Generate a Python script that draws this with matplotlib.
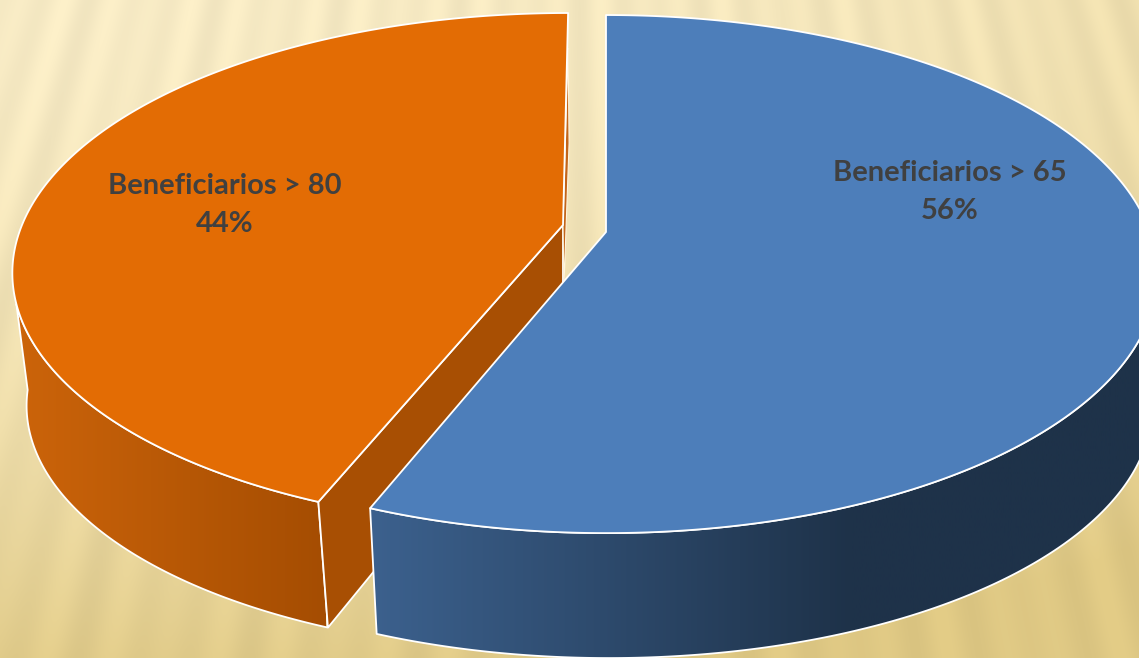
import numpy as np
import matplotlib
matplotlib.use("Agg")
import matplotlib.pyplot as plt
from matplotlib.patches import Polygon
from matplotlib.colors import LinearSegmentedColormap

categories = ["Beneficiarios > 65", "Beneficiarios > 80"]
shares = [56, 44]

W, H = 1139, 658
fig = plt.figure(figsize=(W / 100, H / 100), dpi=100)
ax = fig.add_axes([0, 0, 1, 1])


def background():
    y, x = np.mgrid[0:H, 0:W]
    t = np.clip(0.9 * (y / H) ** 1.7 + 0.35 * (x / W) ** 2.5, 0, 1)
    light = np.array([254, 241, 202]) / 255
    dark = np.array([228, 205, 135]) / 255
    phi = np.arctan((x - 570) / (y + 1700.0))
    s = 0.5 + 0.3 * np.sin(phi * 267) + 0.2 * np.sin(phi * 181 + 1)
    shade = 1 - 0.05 * s
    img = (light * (1 - t[..., None]) + dark * t[..., None]) * shade[..., None]
    return np.clip(img, 0, 1)


ax.imshow(background(), extent=(0, W, H, 0), aspect="auto", zorder=0)


def rim(theta, apex, A, K, S, shear=0.0, depth=False, dshift=0.0, xscale=1.0):
    sx, cy = np.sin(theta), np.cos(theta)
    den = 1 + K * cy
    X = A * sx / den
    Y = -S * cy / den
    px = apex[0] + X - shear * Y
    py = apex[1] + Y
    if depth:
        px = apex[0] + X * xscale - shear * Y + dshift
        py = apex[1] + Y * 0.97 + 134
    return px, py


def gradient_wall(poly_xy, x0, x1, stops, z):
    patch = Polygon(poly_xy, closed=True, fc="none", ec="none", zorder=z)
    ax.add_patch(patch)
    cmap = LinearSegmentedColormap.from_list("w", stops)
    grad = np.linspace(0, 1, 400)[None, :]
    im = ax.imshow(grad, extent=(x0, x1, H, 0), cmap=cmap, aspect="auto", zorder=z)
    im.set_clip_path(patch)
    ax.add_patch(Polygon(poly_xy, closed=True, fc="none", ec="white", lw=1.3, zorder=z + 0.1, joinstyle="round"))
    return im


frac = np.cumsum(shares) / np.sum(shares)
split = frac[0] * 2 * np.pi

# ---- orange slice (exploded)
apex_o = (563, 225)
geo_o = dict(apex=apex_o, A=541, K=0.1755, S=249.2, shear=0.024)
dep_o = dict(depth=True, dshift=6, xscale=0.985)
xt, yt = rim(np.linspace(split, np.radians(252.5), 200), **geo_o)
xb, yb = rim(np.linspace(split, np.radians(262.8), 200), **geo_o, **dep_o)
gradient_wall(np.c_[np.r_[xt, xb[::-1]], np.r_[yt, yb[::-1]]], 15, 326, ["#cc640a", "#a54d02"], 2)

ax_t, ay_t = rim(np.array([split]), **geo_o)
ax_b, ay_b = rim(np.array([split]), **geo_o, **dep_o)
ax.add_patch(Polygon([(apex_o[0], apex_o[1]), (ax_t[0], ay_t[0]), (ax_b[0], ay_b[0]),
                      (apex_o[0], apex_o[1] + 115)],
                     closed=True, fc="#a84f03", ec="white", lw=1.3, zorder=3))
top_x, top_y = rim(np.array([2 * np.pi]), **geo_o)
ax.add_patch(Polygon([(apex_o[0], apex_o[1]), (top_x[0], top_y[0] + 35), (top_x[0] + 1, top_y[0] + 130),
                      (apex_o[0] + 1, apex_o[1] + 60)],
                     closed=True, fc="#c2651a", ec="#fff4dc", lw=0.8, zorder=3))
xo, yo = rim(np.linspace(split, 2 * np.pi, 300), **geo_o)
ax.add_patch(Polygon(np.c_[np.r_[apex_o[0], xo], np.r_[apex_o[1], yo]], closed=True,
                     fc="#e36c04", ec="white", lw=1.3, zorder=4, joinstyle="round"))

# ---- blue slice
apex_b = (606, 232)
geo_b = dict(apex=apex_b, A=544, K=0.1624, S=252.2)
dep_b = dict(depth=True, dshift=3, xscale=0.985)
tw = np.linspace(0.5 * np.pi, split, 300)
xt, yt = rim(tw, **geo_b)
xb, yb = rim(tw, **geo_b, **dep_b)
gradient_wall(np.c_[np.r_[xt, xb[::-1]], np.r_[yt, yb[::-1]]], 368, 1160,
              [(0, "#3c618e"), (0.61, "#1e3249"), (1, "#1e3249")], 5)
xo, yo = rim(np.linspace(0, split, 400), **geo_b)
ax.add_patch(Polygon(np.c_[np.r_[apex_b[0], xo], np.r_[apex_b[1], yo]], closed=True,
                     fc="#4d7eba", ec="white", lw=1.3, zorder=6, joinstyle="round"))

# ---- labels
font = dict(family="Lato", weight="bold", fontsize=21, color="#404040", ha="center", va="center",
            linespacing=1.56, zorder=8)
ax.text(950, 192, f"{categories[0]}\n{shares[0]}%", **font)
ax.text(225, 205, f"{categories[1]}\n{shares[1]}%", **font)

ax.set_xlim(0, W)
ax.set_ylim(H, 0)
ax.axis("off")
fig.savefig("out.png", dpi=100)
